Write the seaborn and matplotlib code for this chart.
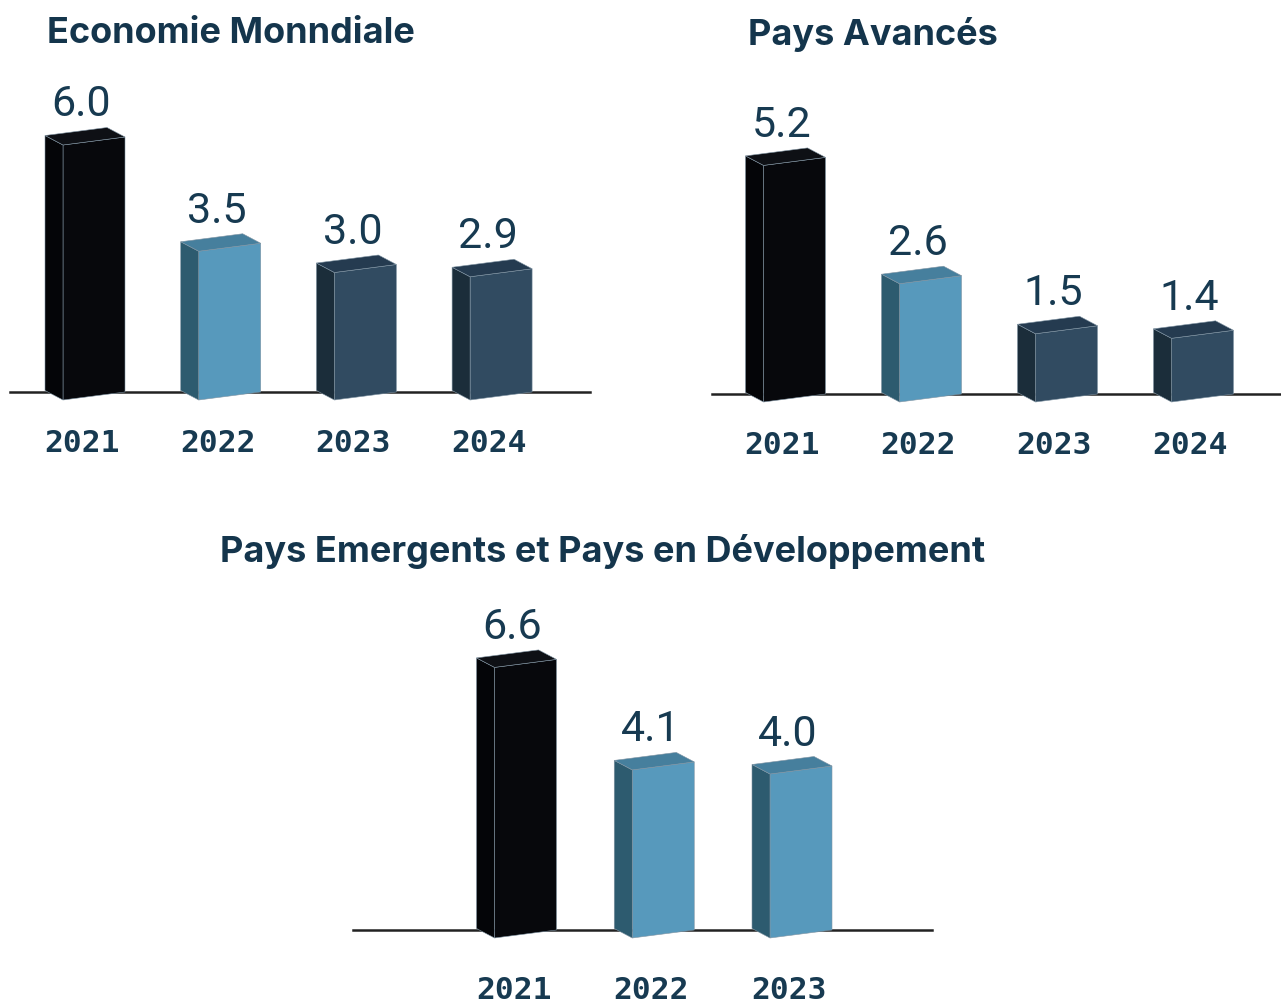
import numpy as np
import matplotlib
matplotlib.use("Agg")
import matplotlib.pyplot as plt
from matplotlib.patches import Polygon
from matplotlib.transforms import Affine2D, ScaledTranslation
import seaborn as sns

# Data
years_world = ["2021", "2022", "2023", "2024"]
growth_world = [6.0, 3.5, 3.0, 2.9]
years_adv = ["2021", "2022", "2023", "2024"]
growth_adv = [5.2, 2.6, 1.5, 1.4]
years_emg = ["2021", "2022", "2023"]
growth_emg = [6.6, 4.1, 4.0]
title_world = "Economie Monndiale"
title_adv = "Pays Avancés"
title_emg = "Pays Emergents et Pays en Développement"

# bar styles (front, side, top)
FACES = {
    "black": ("#07080c", "#040508", "#0e1015"),
    "blue": ("#5799bc", "#2d5b6f", "#467f9d"),
    "navy": ("#314b61", "#1b2d3a", "#253b50"),
}
TEXT = "#173a51"

W, H = 1281, 1005
sns.set_theme(style="white")
fig = plt.figure(figsize=(W / 100, H / 100), dpi=100)
fig.patch.set_facecolor("white")


def panel(x0, x1, base, x_first, step, k, years, values, styles, pad):
    """Draw one pseudo-3D bar panel; all geometry given in pixels."""
    above, below = 330, 40
    ax = fig.add_axes([x0 / W, 1 - (base + below) / H, (x1 - x0) / W, (above + below) / H])
    ax.patch.set_alpha(0)
    sns.barplot(x=years, y=values, hue=years, palette=[FACES[s][0] for s in styles],
                legend=False, width=62 / step, saturation=1, ax=ax)
    xlim = (-(x_first - x0) / step, (x1 - x_first) / step)
    ylim = (-below / k, above / k)
    ax.set_xlim(xlim)
    ax.set_ylim(ylim)
    sx = (xlim[1] - xlim[0]) / (x1 - x0)
    sy = (ylim[1] - ylim[0]) / (above + below)
    slant, ddx, ddy = 8 * sy, 18 * sx, 9.5 * sy

    for p, v, s in zip(ax.patches, values, styles):
        front, side_c, top_c = FACES[s]
        xl, w, h = p.get_x(), p.get_width(), p.get_height()
        xr = xl + w
        a = slant / w
        skew = Affine2D(np.array([[1, 0, 0], [a, 1, -a * xr], [0, 0, 1]]))
        p.set_transform(skew + ax.transData)
        p.set_edgecolor("#8094a3")
        p.set_linewidth(0.4)
        side = Polygon([(xl, -slant), (xl, h - slant), (xl - ddx, h - slant + ddy),
                        (xl - ddx, -slant + ddy)], closed=True, fc=side_c,
                       ec="#8094a3", lw=0.4, zorder=p.get_zorder())
        top = Polygon([(xl, h - slant), (xr, h), (xr - ddx, h + ddy),
                       (xl - ddx, h - slant + ddy)], closed=True, fc=top_c,
                      ec="#8094a3", lw=0.4, zorder=p.get_zorder())
        ax.add_patch(side)
        ax.add_patch(top)
        ax.text(xl + w / 2 - 13 * sx, h + ddy + 11 * sy, f"{v:.1f}", ha="center",
                va="baseline", fontsize=31, family="Roboto", fontweight="normal",
                color=TEXT)

    for sp in ["left", "top", "right"]:
        ax.spines[sp].set_visible(False)
    ax.spines["bottom"].set_position(("data", 0))
    ax.spines["bottom"].set_color("#222222")
    ax.spines["bottom"].set_linewidth(1.8)
    ax.spines["bottom"].set_zorder(0)
    ax.set_yticks([])
    ax.set_xlabel("")
    ax.set_ylabel("")
    ax.tick_params(axis="x", length=0, pad=pad)
    for lbl in ax.get_xticklabels():
        lbl.set_fontfamily("DejaVu Sans Mono")
        lbl.set_fontweight("bold")
        lbl.set_fontsize(22.5)
        lbl.set_color(TEXT)
        lbl.set_transform(lbl.get_transform() + ScaledTranslation(-0.12, 0, fig.dpi_scale_trans))
    return ax


panel(10, 590, 392, 94, 135.7, 42.5, years_world, growth_world,
      ["black", "blue", "navy", "navy"], 27)
panel(712, 1281, 394, 794.5, 136, 45.5, years_adv, growth_adv,
      ["black", "blue", "navy", "navy"], 27)
panel(353, 932, 930, 525.5, 137.75, 41, years_emg, growth_emg,
      ["black", "blue", "blue"], 33)

title_kw = dict(fontsize=26, fontweight="bold", family="Inter", color="#14354c", va="baseline")
fig.text(47 / W, 1 - 43 / H, title_world, ha="left", **title_kw)
fig.text(748 / W, 1 - 45 / H, title_adv, ha="left", **title_kw)
fig.text(603 / W, 1 - 562 / H, title_emg, ha="center", **title_kw)

fig.savefig("out.png", dpi=100)
